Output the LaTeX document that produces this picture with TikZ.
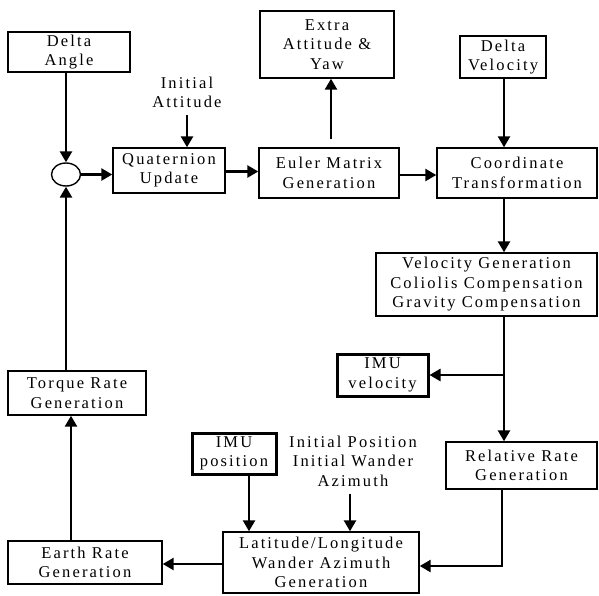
\documentclass[tikz,border=0pt]{standalone}
\usepackage{fontspec}
\setmainfont{Liberation Serif}[LetterSpace=13]
\usetikzlibrary{arrows.meta,shapes.geometric}
\begin{document}
\begin{tikzpicture}[x=1pt,y=-1pt,
  box/.style={draw, line width=1.4pt, align=center, inner sep=0pt, font=\fontsize{16.5}{19.5}\selectfont},
  thickbox/.style={box, line width=3pt},
  lbl/.style={align=center, inner sep=0pt, font=\fontsize{16.5}{19.5}\selectfont},
  arr/.style={line width=2.5pt, -{Triangle[length=11pt,width=12pt]}},
  ln/.style={line width=2.5pt}]
\useasboundingbox (0,0) rectangle (599,595);
\node[box, minimum width=122pt, minimum height=40pt] (dangle) at (69,52) {Delta\\Angle};
\node[box, minimum width=134pt, minimum height=67pt] (extra) at (327,44.5) {Extra\\Attitude \&\\Yaw};
\node[box, minimum width=86pt, minimum height=42pt] (dvel) at (503,57) {Delta\\Velocity};
\node[lbl] (initatt) at (187,92.5) {Initial\\Attitude};
\node[draw, ellipse, line width=1.4pt, minimum width=29pt, minimum height=23pt, inner sep=0pt] (sum) at (66,174.5) {};
\node[box, minimum width=112pt, minimum height=45pt] (quat) at (169,170.5) {Quaternion\\Update};
\node[box, minimum width=140pt, minimum height=50pt] (euler) at (329,173) {Euler Matrix\\Generation};
\node[box, minimum width=160pt, minimum height=50pt] (coord) at (517,173) {Coordinate\\Transformation};
\node[box, minimum width=221pt, minimum height=63pt] (velgen) at (486.5,284.5) {Velocity Generation\\Coliolis Compensation\\Gravity Compensation};
\node[thickbox, minimum width=91pt, minimum height=42pt] (imuvel) at (382.5,375) {IMU\\velocity};
\node[box, minimum width=151pt, minimum height=47pt] (relrate) at (521.5,465.5) {Relative Rate\\Generation};
\node[box, minimum width=138pt, minimum height=44pt] (torque) at (77,393) {Torque Rate\\Generation};
\node[thickbox, minimum width=84pt, minimum height=41pt] (imupos) at (234,453.5) {IMU\\position};
\node[lbl] (initpos) at (353,461) {Initial Position\\Initial Wander\\Azimuth};
\node[box, minimum width=196pt, minimum height=61pt] (latlong) at (321,562.5) {Latitude/Longitude\\Wander Azimuth\\Generation};
\node[box, minimum width=154pt, minimum height=43pt] (earth) at (85,562.5) {Earth Rate\\Generation};
\coordinate (velbranch) at (504,375);
\coordinate (relcorner) at (502,566);
\coordinate (extraarr) at (331,139);
% connectors
\draw[arr] (sum.north |- dangle.south) -- (sum.north);
\draw[arr] ([yshift=-7pt]initatt.south) -- (initatt.south |- quat.north);
\draw[arr] (sum.east) -- (sum.east -| quat.west);
\draw[arr] ([yshift=-1pt]quat.east) -- ([yshift=-1pt]quat.east -| euler.west);
\draw[arr] (extraarr) -- (extraarr |- extra.south);
\draw[arr] ([yshift=-2pt]euler.east) -- ([yshift=-2pt]euler.east -| coord.west);
\draw[arr] (velbranch |- dvel.south) -- (velbranch |- coord.north);
\draw[arr] (velbranch |- coord.south) -- (velbranch |- velgen.north);
\draw[ln] (velbranch |- velgen.south) -- (velbranch);
\draw[arr] (velbranch) -- (relrate.north -| velbranch);
\draw[arr] (velbranch) -- (imuvel.east);
\draw[arr] (relcorner |- relrate.south) -- (relcorner) -- (relcorner -| latlong.east);
\draw[arr] ([xshift=15pt]imupos.south) -- ([xshift=15pt]imupos.south |- latlong.north);
\draw[arr] ([xshift=-3pt,yshift=-7pt]initpos.south) -- ([xshift=-3pt]initpos.south |- latlong.north);
\draw[arr] ([yshift=-1.5pt]latlong.west) -- ([yshift=-1.5pt]latlong.west -| earth.east);
\draw[arr] ([xshift=-14pt]earth.north) -- ([xshift=-14pt]earth.north |- torque.south);
\draw[arr] (sum.south |- torque.north) -- (sum.south);
\end{tikzpicture}
\end{document}
